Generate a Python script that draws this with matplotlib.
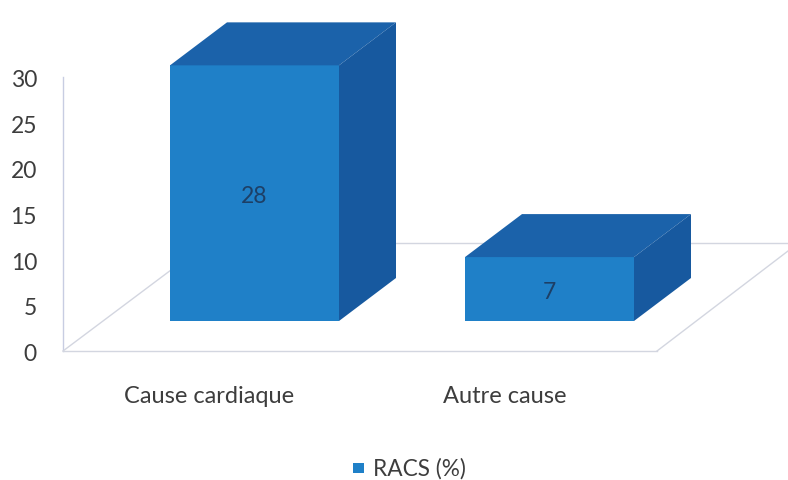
import matplotlib
matplotlib.use("Agg")
import matplotlib.pyplot as plt
from matplotlib.patches import Polygon, Rectangle

categories = ["Cause cardiaque", "Autre cause"]
values = [28, 7]
series_name = "RACS (%)"
y_ticks = [0, 5, 10, 15, 20, 25, 30]

W, H = 788, 481
PX_PER_UNIT = 9.13       # one y unit in pixels
Y0_PX = 352              # pixel row of value 0 on the axis
BAR_LEFT = [170, 465]
BAR_W = 169
BAR_LIFT = 30 / PX_PER_UNIT   # bars sit back on the floor
DX, DY = 57, 43 / PX_PER_UNIT  # oblique depth of a bar
TXT_SHIFT = 2.5 / PX_PER_UNIT  # labels sit a bit lower than va=center gives

FRONT = "#1f80c8"
TOP = "#1b62aa"
SIDE = "#17599f"
GRID = "#d3d6e0"
AXIS = "#c8cde2"
TEXT = "#3d3d3d"

plt.rcParams["font.family"] = ["Lato", "DejaVu Sans"]

fig = plt.figure(figsize=(W / 100, H / 100), dpi=100)
ax = fig.add_axes([0, 0, 1, 1])
ax.set_xlim(0, W)
ax.set_ylim(-(H - Y0_PX) / PX_PER_UNIT, Y0_PX / PX_PER_UNIT)
ax.axis("off")

# floor and wall
floor_back = 108 / PX_PER_UNIT
ax.plot([63, 63], [0, 30], color=AXIS, lw=1)
ax.plot([63, 657], [0, 0], color=GRID, lw=1)
ax.plot([63, 63 + 144], [0, floor_back], color=GRID, lw=1)
ax.plot([657, 788], [0, 100 / PX_PER_UNIT], color=GRID, lw=1)
ax.plot([207, 788], [floor_back, floor_back], color=GRID, lw=1)

for t in y_ticks:
    ax.text(37, t - TXT_SHIFT, str(t), ha="right", va="center", fontsize=16.5, color=TEXT)

for left, val, cat in zip(BAR_LEFT, values, categories):
    base = BAR_LIFT
    top = BAR_LIFT + val
    right = left + BAR_W
    ax.add_patch(Rectangle((left, base), BAR_W, val, fc=FRONT, ec="none", zorder=3))
    ax.add_patch(Polygon([(left, top), (right, top), (right + DX, top + DY), (left + DX, top + DY)],
                         fc=TOP, ec="none", zorder=3))
    ax.add_patch(Polygon([(right, base), (right + DX, base + DY), (right + DX, top + DY), (right, top)],
                         fc=SIDE, ec="none", zorder=3))
    ax.text(left + BAR_W / 2, base + val / 2 - TXT_SHIFT, str(val), ha="center", va="center",
            fontsize=16.5, color="#1d3f66", zorder=4)
    ax.text(left + BAR_W / 2 - 45, -4.85, cat, ha="center", va="center",
            fontsize=17, color=TEXT)

# legend
ax.add_patch(Rectangle((353, -(469 - Y0_PX + 5) / PX_PER_UNIT), 11, 10 / PX_PER_UNIT, fc=FRONT, ec="none"))
ax.text(373, -(469 - Y0_PX) / PX_PER_UNIT, series_name, ha="left", va="center", fontsize=16.3, color=TEXT)

fig.savefig("out.png", dpi=100)
